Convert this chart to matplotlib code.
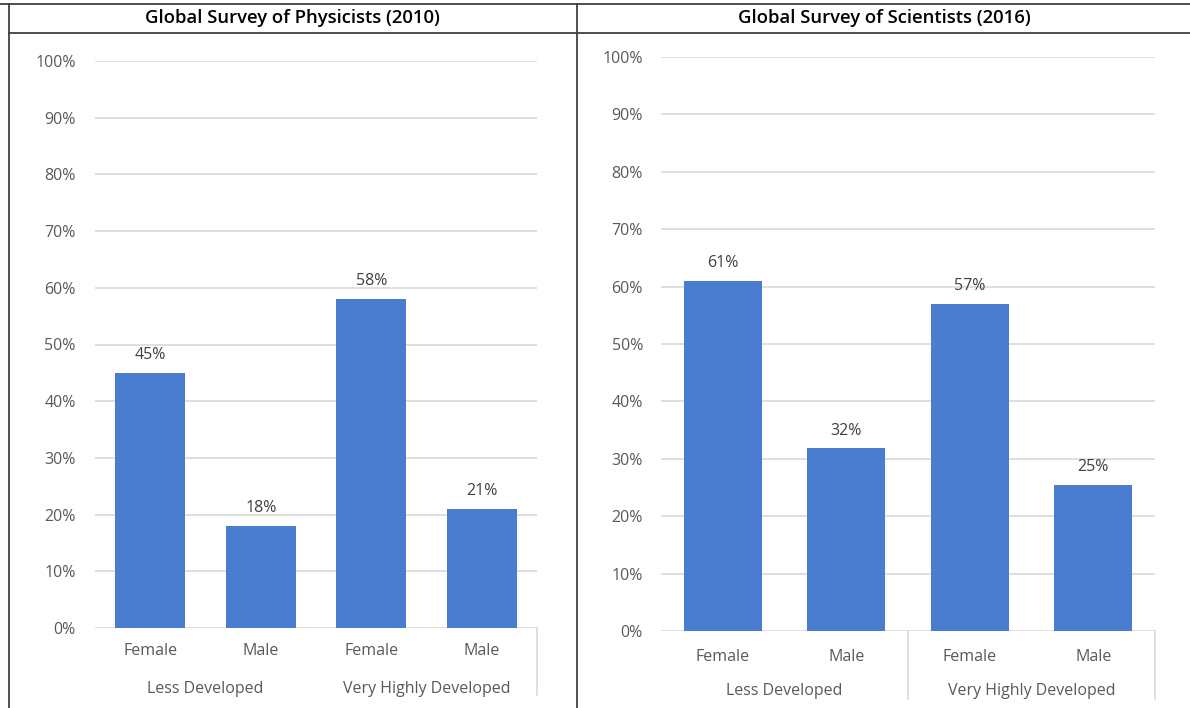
import matplotlib.pyplot as plt
from matplotlib.lines import Line2D

plt.rcParams['font.family'] = ['Open Sans', 'DejaVu Sans']

# data
genders = ['Female', 'Male', 'Female', 'Male']
groups = ['Less Developed', 'Very Highly Developed']
physicists_2010 = [45, 18, 58, 21]
scientists_2016 = [61, 31.8, 57, 25.4]
titles = ['Global Survey of Physicists (2010)', 'Global Survey of Scientists (2016)']

W, H = 1190, 708
bar_color = '#4a7dd0'
grid_color = '#d9d9d9'
text_color = '#595959'
fs = 11.5

fig = plt.figure(figsize=(W / 100, H / 100), dpi=100)


def fx(px):
    return px / W


def fy(py):
    return 1 - py / H


def draw_panel(rect, values, label_off, group_off, ypad, seps):
    ax = fig.add_axes(rect)
    x = range(len(values))
    ax.bar(x, values, width=0.63, color=bar_color, zorder=3)
    ax.set_xlim(-0.5, len(values) - 0.5)
    ax.set_ylim(0, 100)
    ax.set_yticks(range(0, 101, 10))
    ax.set_yticklabels([f'{v}%' for v in range(0, 101, 10)])
    ax.yaxis.grid(True, color=grid_color, lw=1.2, zorder=0)
    ax.set_xticks(list(x))
    ax.set_xticklabels(genders)
    ax.tick_params(axis='x', length=0, pad=label_off, labelsize=fs, labelcolor=text_color)
    ax.tick_params(axis='y', length=0, pad=ypad, labelsize=fs, labelcolor=text_color)
    for s in ax.spines.values():
        s.set_visible(False)
    for i, v in enumerate(values):
        ax.annotate(f'{round(v)}%', (i, v), xytext=(0, 7), textcoords='offset points',
                    ha='center', va='bottom', fontsize=fs, color='#404040')
    # group labels under the categories
    for g, name in enumerate(groups):
        ax.annotate(name, (g * 2 + 0.5, 0), xycoords=('data', 'axes fraction'),
                    xytext=(0, -group_off), textcoords='offset points',
                    ha='center', va='center', fontsize=fs, color=text_color,
                    annotation_clip=False)
    for sx in seps:
        ax.add_line(Line2D([sx, sx], [0, -0.118], transform=ax.get_xaxis_transform(),
                           color=grid_color, lw=1.2, clip_on=False))
    return ax


draw_panel([fx(95), fy(628), fx(442), 567 / H], physicists_2010, 11, 44, 14, [3.5])
draw_panel([fx(661), fy(631), fx(494), 574 / H], scientists_2016, 13, 43, 13, [1.5, 3.5])

# table frame around the two charts
line_kw = dict(color='#404040', lw=1.3, transform=fig.transFigure)
fig.add_artist(Line2D([0, 1], [fy(4), fy(4)], **line_kw))
fig.add_artist(Line2D([fx(9), 1], [fy(33), fy(33)], **line_kw))
fig.add_artist(Line2D([fx(9), fx(9)], [0, fy(4)], **line_kw))
fig.add_artist(Line2D([fx(577), fx(577)], [0, fy(4)], **line_kw))

fig.text(fx(292), fy(18), titles[0], ha='center', va='center', fontsize=13.3, fontweight='semibold', color='black')
fig.text(fx(884), fy(18), titles[1], ha='center', va='center', fontsize=13.3, fontweight='semibold', color='black')

fig.savefig('out.png', dpi=100)
